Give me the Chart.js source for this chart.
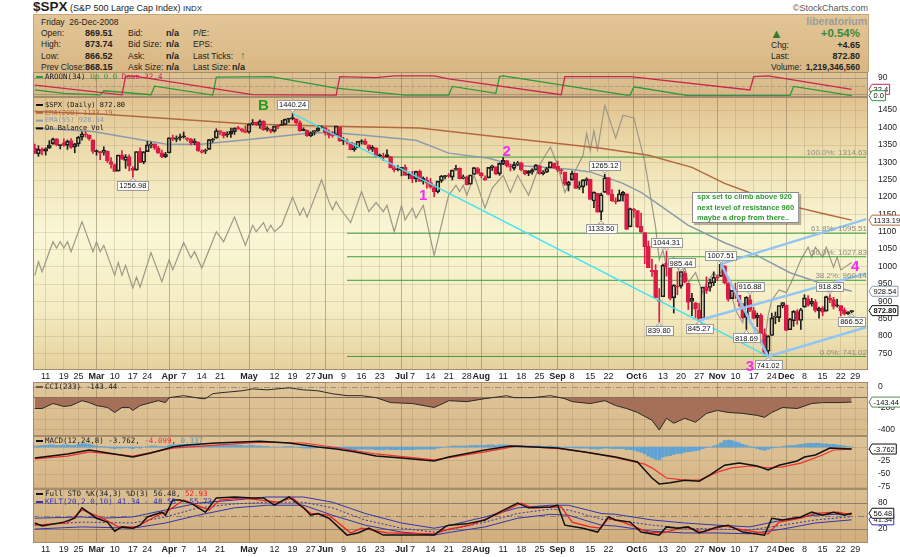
<!DOCTYPE html>
<html>
<head>
<meta charset="utf-8">
<title>$SPX daily</title>
<script src="https://cdn.jsdelivr.net/npm/chart.js@4.4.1/dist/chart.umd.min.js"></script>
<style>
  body { margin: 0; background: #fff; }
  #wrap { position: relative; width: 900px; height: 557px; overflow: hidden; background: #fff;
          font-family: "Liberation Sans", Arial, sans-serif; color: #222; }
  #wrap canvas { position: absolute; left: 0; }
  .t { position: absolute; white-space: nowrap; font-size: 8.5px; line-height: 10px; }
  .v { font-weight: bold; font-size: 9px; }
  #head { position: absolute; left: 33px; top: 14px; width: 834px; height: 57px;
          background: linear-gradient(#e3c596, #d9b784); border: 1px solid #c7a77a; border-bottom: 0; }
</style>
</head>
<body>
<div id="wrap">
  <div class="t" style="left:33px;top:0px;font-size:9px;line-height:14px"><b style="font-size:13.5px">$SPX</b> (S&amp;P 500 Large Cap Index) <span style="font-size:8px">INDX</span></div>
  <div class="t" style="right:32px;top:3px;font-size:9px;color:#555">©StockCharts.com</div>
  <div id="head">
    <div class="t" style="left:7px;top:2px">Friday&nbsp; 26-Dec-2008</div>
    <div class="t" style="left:7px;top:13px">Open:</div><div class="t v" style="left:51px;top:13px">869.51</div>
    <div class="t" style="left:94px;top:13px">Bid:</div><div class="t v" style="left:132px;top:13px">n/a</div>
    <div class="t" style="left:159px;top:13px">P/E:</div>
    <div class="t" style="left:7px;top:24px">High:</div><div class="t v" style="left:51px;top:24px">873.74</div>
    <div class="t" style="left:94px;top:24px">Bid Size:</div><div class="t v" style="left:132px;top:24px">n/a</div>
    <div class="t" style="left:159px;top:24px">EPS:</div>
    <div class="t" style="left:7px;top:36px">Low:</div><div class="t v" style="left:51px;top:36px">866.52</div>
    <div class="t" style="left:94px;top:36px">Ask:</div><div class="t v" style="left:132px;top:36px">n/a</div>
    <div class="t" style="left:159px;top:36px">Last Ticks:</div>
    <div class="t" style="left:206px;top:35px;font-size:11px;font-weight:bold;color:#2f8a3a">&#8593;</div>
    <div class="t" style="left:7px;top:47px">Prev Close:</div><div class="t v" style="left:51px;top:47px">868.15</div>
    <div class="t" style="left:94px;top:47px">Ask Size:</div><div class="t v" style="left:132px;top:47px">n/a</div>
    <div class="t" style="left:159px;top:47px">Last Size:</div><div class="t v" style="left:198px;top:47px">n/a</div>
    <div class="t" style="right:1px;top:1px;font-size:10.5px;font-weight:bold;color:#9b9b9b">liberatorium</div>
    <div class="t" style="left:736px;top:12px;font-size:13px;line-height:14px;color:#2f7d32">&#9650;</div>
    <div class="t v" style="right:8px;top:12px;font-size:11.5px;line-height:12px;color:#3a8a3a">+0.54%</div>
    <div class="t" style="left:737px;top:25px">Chg:</div><div class="t v" style="right:8px;top:25px">+4.65</div>
    <div class="t" style="left:737px;top:36px">Last:</div><div class="t v" style="right:8px;top:36px">872.80</div>
    <div class="t" style="left:737px;top:47px">Volume:</div><div class="t v" style="right:8px;top:47px;font-size:8.5px">1,219,346,560</div>
  </div>
  <canvas id="cAroon" width="900" height="32" style="top:72px"></canvas>
  <canvas id="cPrice" width="900" height="285" style="top:97px"></canvas>
  <canvas id="cCci" width="900" height="54" style="top:382px"></canvas>
  <canvas id="cMacd" width="900" height="53" style="top:436px"></canvas>
  <canvas id="cSto" width="900" height="68" style="top:489px"></canvas>
</div>
<script>
// ---------- calendar ----------
const holidays = ['2008-02-18', '2008-03-21', '2008-05-26', '2008-07-04', '2008-09-01', '2008-11-27', '2008-12-25', '2009-01-01'];
const monthTicks = ['Mar 3', 'Apr 1', 'May 1', 'Jun 2', 'Jul 1', 'Aug 1', 'Sep 2', 'Oct 1', 'Nov 3', 'Dec 1'];
const weekTicks = ['Feb 11', 'Feb 19', 'Feb 25', 'Mar 10', 'Mar 17', 'Mar 24', 'Apr 7', 'Apr 14', 'Apr 21',
  'May 12', 'May 19', 'May 27', 'Jun 9', 'Jun 16', 'Jun 23', 'Jul 7', 'Jul 14', 'Jul 21', 'Jul 28',
  'Aug 11', 'Aug 18', 'Aug 25', 'Sep 8', 'Sep 15', 'Sep 22', 'Oct 6', 'Oct 13', 'Oct 20', 'Oct 27',
  'Nov 10', 'Nov 17', 'Nov 24', 'Dec 8', 'Dec 15', 'Dec 22', 'Dec 29'];

// ---------- daily prices, Feb 6 .. Dec 26 2008 ----------
const open = [
  1339.5, 1324.01, 1336.88, 1331.92, 1340.55, 1353.12, 1367.33, 1347.52, 1355.86, 1348.39, 1362.21, 1344.22, 1352.75, 1371.76, 1378.95, 1378.16, 1364.07,
  1330.45, 1329.58, 1327.69, 1332.2, 1301.53, 1293.16, 1274.4, 1321.13, 1305.26, 1316.05, 1283.21, 1277.16, 1330.97, 1299.67, 1330.29, 1349.07, 1352.45, 1340.34, 1327.02, 1315.92,
  1326.41, 1369.96, 1365.69, 1369.85, 1373.69, 1370.16, 1365.5, 1355.37, 1357.98, 1332.2, 1331.72, 1337.02, 1363.37, 1369, 1387.72, 1386.43, 1378.4, 1380.52, 1387.88, 1397.96, 1395.61, 1391.22,
  1385.97, 1409.16, 1415.34, 1405.6, 1417.49, 1394.29, 1394.9, 1389.4, 1404.4, 1405.65, 1408.36, 1423.89, 1425.28, 1424.49, 1414.06, 1390.83, 1392.2, 1375.97, 1386.54, 1390.5, 1398.36,
  1399.62, 1386.42, 1376.26, 1377.48, 1400.06, 1360.83, 1358.98, 1357.09, 1335.78, 1341.81, 1358.85, 1360.71, 1349.59, 1336.89, 1341.02, 1319.77, 1317.23, 1314.54, 1316.29, 1283.6, 1278.06,
  1276.69, 1285.82, 1262.96, 1262.9, 1251.84, 1273.38, 1245.25, 1248.66, 1241.61, 1226.83, 1214.65, 1246.31, 1258.22, 1261.82, 1257.08, 1278.87, 1283.22, 1253.51, 1257.76, 1236.38, 1264.52, 1281.37,
  1269.42, 1253.27, 1254.87, 1283.99, 1286.51, 1266.29, 1294.42, 1304.79, 1288.64, 1282.11, 1293.85, 1298.14, 1276.65, 1267.34, 1271.07, 1277.59, 1290.47, 1267.03, 1271.29, 1283.79, 1296.49,
  1287.83, 1276.61, 1271.8, 1233.21, 1249.5, 1267.98, 1227.5, 1229.04, 1245.88, 1250.92, 1188.31, 1210.34, 1157.08, 1213.11, 1255.37, 1207.61, 1188.79, 1187.87, 1204.47, 1209.07, 1113.78,
  1164.17, 1160.64, 1115.16, 1097.56, 1057.6, 988.91, 988.42, 902.31, 912.75, 1009.97, 994.6, 909.53, 942.29, 943.51, 980.4, 951.67, 899.08, 895.22, 874.28, 848.92, 939.51, 939.38, 953.11,
  968.67, 971.31, 1001.84, 952.4, 907.44, 936.75, 917.15, 893.39, 853.13, 904.36, 873.23, 852.34, 859.03, 805.87, 755.84, 801.2, 853.4, 852.9, 886.89,
  888.61, 817.94, 843.6, 869.75, 844.43, 882.71, 906.48, 892.17, 898.35, 871.79, 881.07, 871.53, 908.16, 904.42, 886.96, 887.2, 874.31, 863.87, 869.51
];
const high = [
  1351.96, 1347.16, 1341.22, 1341.4, 1362.1, 1369.23, 1368.16, 1350, 1367.28, 1363.71, 1367.94, 1354.3, 1374.36, 1387.34, 1388.34, 1378.16, 1364.07,
  1335.13, 1331.03, 1344.19, 1332.2, 1313.24, 1295.01, 1320.65, 1333.26, 1321.68, 1321.47, 1287.5, 1330.74, 1341.51, 1330.67, 1359.68, 1357.47, 1352.45, 1345.62, 1334.87, 1328.52,
  1370.18, 1377.95, 1375.66, 1380.91, 1386.74, 1370.16, 1368.39, 1367.24, 1357.98, 1335.64, 1337.72, 1365.49, 1368.6, 1395.9, 1390.23, 1386.43, 1387.87, 1397.72, 1399.11, 1402.9, 1397, 1404.57,
  1410.07, 1422.72, 1415.34, 1421.57, 1419.54, 1402.35, 1394.9, 1404.06, 1406.3, 1420.19, 1424.4, 1425.82, 1440.24, 1424.49, 1419.12, 1399.07, 1392.2, 1387.4, 1391.25, 1406.32, 1404.46,
  1399.62, 1393.12, 1388.18, 1404.05, 1400.06, 1370.63, 1366.84, 1357.09, 1353.03, 1360.03, 1364.7, 1366.59, 1349.59, 1347.66, 1341.02, 1323.78, 1326.02, 1335.63, 1316.29, 1289.45, 1290.31,
  1285.31, 1292.17, 1271.48, 1273.95, 1274.17, 1277.36, 1257.65, 1257.27, 1253.5, 1234.35, 1245.52, 1262.31, 1262.23, 1267.74, 1277.42, 1291.17, 1283.22, 1263.23, 1260.09, 1263.2, 1284.33, 1284.93,
  1270.52, 1260.49, 1284.88, 1291.67, 1286.51, 1297.85, 1313.15, 1304.79, 1294.03, 1300.11, 1302.05, 1300.22, 1276.65, 1276.01, 1281.4, 1293.09, 1290.47, 1275.65, 1285.05, 1300.68, 1297.59,
  1303.04, 1280.6, 1271.8, 1244.94, 1274.42, 1268.66, 1243.9, 1249.98, 1255.09, 1250.92, 1214.84, 1210.34, 1211.14, 1265.12, 1255.37, 1221.15, 1197.41, 1220.03, 1215.77, 1209.07, 1168.03,
  1167.03, 1160.64, 1153.82, 1097.56, 1072.91, 1021.06, 1005.25, 936.36, 1006.93, 1044.31, 994.6, 947.71, 984.64, 985.44, 985.44, 951.67, 922.83, 896.3, 893.78, 940.51, 969.97, 963.23, 984.38,
  975.57, 1007.51, 1001.84, 952.4, 931.46, 951.95, 917.15, 893.39, 913.01, 916.88, 882.29, 865.9, 864.57, 820.52, 801.2, 865.6, 868.94, 887.68, 896.25,
  888.61, 850.54, 873.12, 875.6, 879.42, 918.57, 916.26, 908.27, 904.63, 883.24, 884.63, 914.66, 918.85, 911.02, 905.47, 887.37, 880.44, 869.79, 873.74
];
const low = [
  1324.34, 1316.75, 1321.06, 1320.32, 1339.36, 1350.78, 1347.31, 1338.13, 1345.05, 1336.55, 1339.34, 1327.04, 1346.03, 1363.29, 1372, 1363.16, 1325.42,
  1320.04, 1307.39, 1320.22, 1298.97, 1282.43, 1272.66, 1274.4, 1307.86, 1282.11, 1274.86, 1256.98, 1277.16, 1298.42, 1295.22, 1330.29, 1341.21, 1336.41, 1325.66, 1312.95, 1312.81,
  1326.41, 1361.55, 1358.68, 1362.83, 1369.02, 1360.62, 1349.97, 1350.11, 1331.21, 1326.16, 1324.35, 1337.02, 1357.25, 1369, 1379.25, 1369.84, 1372.24, 1371.09, 1379.98, 1394.4, 1386.7, 1384.25,
  1383.07, 1406.25, 1404.37, 1397.1, 1391.16, 1389.39, 1384.11, 1386.2, 1396.26, 1405.65, 1406.87, 1414.35, 1421.63, 1409.09, 1388.81, 1390.23, 1373.72, 1373.07, 1378.16, 1388.59, 1398.08,
  1377.79, 1370.12, 1371.74, 1377.48, 1359.9, 1350.62, 1351.56, 1335.47, 1331.29, 1341.71, 1352.07, 1350.54, 1333.4, 1330.5, 1314.46, 1315.31, 1304.42, 1314.54, 1283.15, 1272, 1274.86,
  1260.68, 1261.51, 1252.01, 1240.68, 1242.84, 1244.57, 1236.76, 1225.35, 1225.01, 1200.44, 1211.39, 1241.49, 1251.81, 1255.7, 1248.83, 1276.06, 1251.48, 1251.75, 1234.37, 1236.38, 1264.52, 1265.97,
  1254.54, 1247.45, 1254.67, 1276, 1264.29, 1262.11, 1292.75, 1285.64, 1274.86, 1276.84, 1290.74, 1274.51, 1263.11, 1261.16, 1265.22, 1277.59, 1264.87, 1263.21, 1270.03, 1283.79, 1282.74,
  1272.2, 1265.59, 1232.83, 1217.23, 1247.12, 1224.51, 1221.6, 1211.54, 1233.81, 1192.7, 1169.28, 1155.88, 1133.5, 1213.11, 1205.61, 1187.06, 1179.79, 1187.87, 1187.54, 1106.42, 1113.78,
  1140.77, 1111.43, 1098.14, 1007.97, 996.23, 970.97, 909.19, 839.8, 912.75, 972.07, 903.99, 865.83, 918.74, 937.44, 952.47, 875.81, 858.44, 852.85, 845.27, 846.1, 922.26, 928.5, 944.59,
  958.82, 971.31, 949.86, 899.73, 906.9, 907.47, 884.9, 850.48, 818.69, 869.88, 848.98, 826.84, 806.18, 747.78, 741.02, 801.2, 834.99, 841.37, 881.21,
  815.69, 817.94, 827.6, 833.6, 818.41, 882.71, 885.38, 885.45, 868.73, 851.35, 857.72, 871.53, 895.94, 877.44, 883.02, 857.09, 860.1, 861.44, 866.52
];
const close = [
  1326.45, 1336.91, 1331.29, 1339.13, 1348.86, 1367.21, 1348.86, 1349.99, 1348.78, 1360.03, 1342.53, 1353.11, 1371.8, 1381.29, 1380.02, 1367.68, 1330.63,
  1331.34, 1326.75, 1333.7, 1304.34, 1293.37, 1273.37, 1320.65, 1308.77, 1315.48, 1288.14, 1276.6, 1330.74, 1298.42, 1329.51, 1349.88, 1352.99, 1341.13, 1325.76, 1315.22, 1322.7,
  1370.18, 1367.53, 1369.31, 1370.4, 1372.54, 1365.54, 1354.49, 1360.55, 1332.83, 1328.32, 1334.43, 1364.71, 1365.56, 1390.33, 1388.17, 1375.94, 1379.93, 1388.82, 1397.84, 1396.37, 1390.94, 1385.59,
  1409.34, 1413.9, 1407.49, 1418.26, 1392.57, 1397.68, 1388.28, 1403.58, 1403.04, 1408.66, 1423.57, 1425.35, 1426.63, 1413.4, 1390.71, 1394.35, 1375.93, 1385.35, 1390.84, 1398.26, 1400.38,
  1385.67, 1377.65, 1377.2, 1404.05, 1360.68, 1361.76, 1358.44, 1335.49, 1339.87, 1360.03, 1360.14, 1350.93, 1337.81, 1342.83, 1317.93, 1318, 1314.29, 1321.97, 1283.15, 1278.38, 1280,
  1284.91, 1261.52, 1262.9, 1252.31, 1273.7, 1244.69, 1253.39, 1239.49, 1228.3, 1214.91, 1245.36, 1260.32, 1260.68, 1260, 1277, 1282.19, 1252.54, 1257.76, 1234.37, 1263.2, 1284.26, 1267.38,
  1260.31, 1249.01, 1284.88, 1289.19, 1266.07, 1296.32, 1305.32, 1289.59, 1285.83, 1292.93, 1298.2, 1278.6, 1266.69, 1274.54, 1277.72, 1292.2, 1266.84, 1271.51, 1281.66, 1300.68, 1282.83,
  1277.58, 1274.98, 1236.83, 1242.31, 1267.79, 1224.51, 1232.04, 1249.05, 1251.7, 1192.7, 1213.6, 1156.39, 1206.51, 1255.08, 1207.09, 1188.22, 1185.87, 1209.18, 1213.27, 1106.42, 1166.36,
  1161.06, 1114.28, 1099.23, 1056.89, 996.23, 984.94, 909.92, 899.22, 1003.35, 998.01, 907.84, 946.43, 940.55, 985.4, 955.05, 896.78, 908.11, 876.77, 848.92, 940.51, 930.09, 954.09, 968.75,
  966.3, 1005.75, 952.77, 904.88, 930.99, 919.21, 898.95, 852.3, 911.29, 873.29, 850.75, 859.12, 806.58, 752.44, 800.03, 851.81, 857.39, 887.68, 896.24,
  816.21, 848.81, 870.74, 845.22, 876.07, 909.7, 888.67, 899.24, 873.59, 879.73, 868.57, 913.18, 904.42, 885.28, 887.88, 871.63, 863.16, 868.15, 872.8
];

// ---------- overlays (date, value) ----------
const ema200 = [['Feb 6', 1446], ['Mar 5', 1438], ['May 1', 1410], ['May 30', 1404], ['Jul 9', 1398], ['Aug 1', 1378],
  ['Aug 27', 1357], ['Sep 18', 1340], ['Oct 7', 1320], ['Oct 23', 1285], ['Nov 5', 1239], ['Nov 18', 1204],
  ['Dec 2', 1175], ['Dec 15', 1152], ['Dec 26', 1133.19]];
const ema55 = [['Feb 6', 1398], ['Feb 29', 1388], ['Mar 31', 1352], ['Apr 11', 1351], ['May 1', 1365], ['May 22', 1382],
  ['Jun 3', 1386], ['Jun 16', 1378], ['Jul 8', 1363], ['Jul 21', 1326], ['Aug 5', 1311], ['Aug 14', 1291],
  ['Aug 27', 1285], ['Sep 8', 1279], ['Sep 15', 1272], ['Sep 26', 1239], ['Oct 3', 1213], ['Oct 9', 1184],
  ['Oct 22', 1118], ['Nov 5', 1068], ['Nov 18', 1031], ['Dec 2', 982], ['Dec 15', 950], ['Dec 26', 928.54]];
// On Balance Volume, billions of shares (relative)
const obv = [['Feb 6', 10.4], ['Feb 7', 11.9], ['Feb 8', 10.8], ['Feb 13', 14.1], ['Feb 14', 13.4], ['Feb 15', 14.1],
  ['Feb 19', 13.4], ['Feb 20', 14.1], ['Feb 21', 13.0], ['Feb 26', 16.3], ['Feb 29', 13.0], ['Mar 3', 14.1],
  ['Mar 4', 13.0], ['Mar 5', 13.7], ['Mar 10', 10.4], ['Mar 11', 11.8], ['Mar 12', 10.4], ['Mar 13', 11.5],
  ['Mar 17', 9.0], ['Mar 18', 10.2], ['Mar 19', 9.1], ['Mar 25', 12.9], ['Mar 28', 9.7], ['Apr 1', 12.1],
  ['Apr 2', 11.0], ['Apr 7', 14.0], ['Apr 9', 12.3], ['Apr 10', 13.0], ['Apr 14', 11.2], ['Apr 18', 15.2],
  ['Apr 22', 14.1], ['Apr 25', 16.8], ['Apr 30', 13.7], ['May 2', 15.9], ['May 5', 15.2], ['May 7', 16.2],
  ['May 8', 15.2], ['May 9', 15.9], ['May 12', 15.2], ['May 14', 15.9], ['May 19', 19.0], ['May 21', 17.0],
  ['May 22', 17.8], ['May 23', 16.8], ['May 30', 20.9], ['Jun 3', 18.5], ['Jun 4', 17.6], ['Jun 5', 18.5],
  ['Jun 6', 17.8], ['Jun 11', 16.2], ['Jun 16', 19.6], ['Jun 18', 17.4], ['Jun 20', 18.4], ['Jun 24', 17.4],
  ['Jun 25', 18.1], ['Jun 27', 15.2], ['Jul 1', 18.1], ['Jul 2', 16.5], ['Jul 7', 17.8], ['Jul 8', 16.7],
  ['Jul 10', 18.1], ['Jul 15', 12.6], ['Jul 18', 17.6], ['Jul 21', 19.2], ['Jul 23', 20.3], ['Jul 24', 19.6],
  ['Jul 25', 20.3], ['Jul 28', 19.2], ['Jul 30', 21.4], ['Aug 4', 17.8], ['Aug 6', 20.0], ['Aug 11', 21.4],
  ['Aug 13', 19.5], ['Aug 15', 21.4], ['Aug 20', 19.2], ['Aug 25', 22.5], ['Aug 28', 24.5], ['Sep 2', 22.5],
  ['Sep 4', 19.5], ['Sep 8', 21.2], ['Sep 11', 23.6], ['Sep 12', 26.0], ['Sep 15', 24.1], ['Sep 16', 26.3],
  ['Sep 17', 24.2], ['Sep 19', 29.1], ['Sep 24', 25.5], ['Sep 26', 28.0], ['Oct 1', 27.7], ['Oct 6', 22.9],
  ['Oct 9', 15.7], ['Oct 10', 12.1], ['Oct 13', 13.2], ['Oct 14', 11.3], ['Oct 16', 12.4], ['Oct 20', 10.2],
  ['Oct 21', 11.3], ['Oct 22', 9.6], ['Oct 24', 10.7], ['Oct 28', 8.5], ['Oct 29', 9.6], ['Oct 31', 10.7],
  ['Nov 3', 10.2], ['Nov 5', 11.3], ['Nov 6', 9.6], ['Nov 10', 6.6], ['Nov 12', 5.2], ['Nov 13', 7.7],
  ['Nov 14', 5.2], ['Nov 18', 4.4], ['Nov 19', 3.3], ['Nov 20', 3.0], ['Nov 21', 6.0], ['Nov 24', 7.7],
  ['Nov 26', 8.8], ['Dec 1', 8.5], ['Dec 3', 10.2], ['Dec 5', 12.1], ['Dec 9', 13.5], ['Dec 10', 12.4],
  ['Dec 11', 13.5], ['Dec 15', 12.4], ['Dec 16', 13.5], ['Dec 18', 11.3], ['Dec 19', 12.4], ['Dec 22', 11.0],
  ['Dec 26', 11.8]];

const aroonUp = [['Feb 6', 29], ['Feb 19', 12], ['Mar 4', 4], ['Mar 5', 25], ['Mar 25', 5], ['Mar 26', 48],
  ['Apr 17', 3], ['Apr 18', 94], ['May 9', 97], ['Jun 5', 38], ['Jul 2', 3], ['Jul 21', 3], ['Jul 22', 47],
  ['Aug 7', 12], ['Aug 8', 97], ['Aug 11', 100], ['Sep 29', 3], ['Sep 30', 3], ['Oct 1', 45], ['Oct 22', 0],
  ['Dec 2', 0], ['Dec 3', 47], ['Dec 26', 0]];
const aroonDown = [['Feb 6', 54], ['Mar 12', 4], ['Mar 13', 97], ['Mar 17', 100], ['May 2', 5], ['Jun 5', 3],
  ['Jun 6', 97], ['Jun 20', 92], ['Jun 27', 100], ['Jul 15', 100], ['Jul 21', 85], ['Sep 3', 5], ['Sep 4', 97],
  ['Sep 30', 97], ['Nov 14', 29], ['Nov 17', 97], ['Nov 21', 100], ['Dec 26', 32.4]];

const cci = [['Feb 6', -204], ['Feb 8', -204], ['Feb 13', -157], ['Feb 19', -185], ['Feb 21', -176], ['Feb 26', -130],
  ['Feb 28', -148], ['Mar 3', -176], ['Mar 6', -194], ['Mar 10', -241], ['Mar 12', -194], ['Mar 14', -194],
  ['Mar 17', -222], ['Mar 19', -176], ['Mar 27', -130], ['Mar 31', -148], ['Apr 1', -102], ['Apr 7', -83],
  ['Apr 14', -111], ['Apr 15', -111], ['Apr 17', -65], ['Apr 21', -56], ['Apr 29', -37], ['May 2', -19],
  ['May 8', -28], ['May 16', -9], ['May 22', -28], ['May 29', -37], ['Jun 4', -65], ['Jun 10', -83],
  ['Jun 16', -83], ['Jun 20', -102], ['Jun 26', -148], ['Jul 7', -157], ['Jul 15', -194], ['Jul 18', -148],
  ['Jul 21', -130], ['Jul 28', -139], ['Aug 4', -111], ['Aug 12', -83], ['Aug 14', -102], ['Aug 21', -102],
  ['Aug 28', -83], ['Sep 4', -111], ['Sep 8', -139], ['Sep 15', -157], ['Sep 19', -130], ['Sep 24', -176],
  ['Sep 29', -204], ['Oct 2', -241], ['Oct 8', -315], ['Oct 10', -407], ['Oct 14', -296], ['Oct 16', -343],
  ['Oct 21', -296], ['Oct 24', -333], ['Oct 29', -250], ['Nov 3', -222], ['Nov 6', -241], ['Nov 12', -250],
  ['Nov 18', -269], ['Nov 20', -287], ['Nov 24', -241], ['Nov 28', -194], ['Dec 4', -204], ['Dec 10', -157],
  ['Dec 15', -148], ['Dec 19', -148], ['Dec 26', -143.44]];

const macd = [['Feb 6', -20.6], ['Feb 20', -13], ['Feb 28', -5.6], ['Mar 4', -9], ['Mar 17', -18.7], ['Mar 25', -11],
  ['Apr 2', 0], ['Apr 8', 3.7], ['Apr 18', 7.5], ['May 6', 11], ['May 16', 7.5], ['May 22', 3.7], ['May 29', 0],
  ['Jun 5', -3.7], ['Jun 12', -9], ['Jun 20', -17], ['Jul 1', -20.6], ['Jul 15', -26], ['Jul 21', -18.7],
  ['Aug 4', -5.6], ['Aug 13', 1.9], ['Sep 2', -1.9], ['Sep 11', -9], ['Sep 24', -18.7], ['Oct 2', -28],
  ['Oct 8', -58], ['Oct 10', -69], ['Oct 15', -67], ['Oct 21', -62], ['Oct 27', -64], ['Oct 30', -52],
  ['Nov 5', -34], ['Nov 11', -30], ['Nov 18', -35.5], ['Nov 21', -43], ['Nov 26', -34], ['Dec 4', -26],
  ['Dec 8', -18.7], ['Dec 11', -15], ['Dec 17', -1.9], ['Dec 26', -3.762]];
const macdSignal = [['Feb 6', -22], ['Feb 20', -17], ['Feb 28', -9], ['Mar 7', -13], ['Mar 17', -17], ['Apr 2', -2],
  ['Apr 18', 3.7], ['May 6', 9], ['May 22', 7.5], ['Jun 4', 0], ['Jun 20', -13], ['Jul 15', -24], ['Jul 21', -20],
  ['Aug 4', -9], ['Aug 15', 2], ['Sep 3', -3.7], ['Sep 15', -11], ['Sep 24', -20], ['Oct 6', -32], ['Oct 8', -39],
  ['Oct 14', -58], ['Oct 21', -62], ['Oct 27', -62], ['Nov 3', -47], ['Nov 7', -39], ['Nov 14', -35.5],
  ['Nov 21', -39], ['Nov 28', -37], ['Dec 5', -30], ['Dec 15', -15], ['Dec 18', -5.6], ['Dec 26', -4.099]];
const macdHist = [
  2, 2, 3, 3, 4, 4, 3, 3, 4, 4, 3, 3, 5, 6, 6, 5, 3,
  2, 1, 1, -1, -2, -3, -2, -2, -1, -2, -3, -1, -2, 0, 1, 2, 2, 1, 1, 1,
  3, 4, 4, 5, 5, 5, 4, 4, 3, 2, 2, 3, 3, 4, 4, 3, 3, 3, 4, 3, 3, 2,
  3, 3, 2, 2, 1, 1, 0, 0, 0, 0, 1, 1, 1, 0, -1, -2, -2, -2, -2, -1, -1,
  -2, -2, -3, -2, -3, -3, -4, -5, -5, -4, -4, -4, -4, -4, -5, -5, -5, -4, -5, -5, -5,
  -5, -5, -5, -5, -4, -4, -4, -4, -4, -4, -2, -1, 0, 1, 2, 2, 2, 2, 2, 3, 3, 3,
  3, 3, 4, 4, 3, 4, 4, 4, 3, 3, 3, 3, 2, 2, 2, 2, 2, 1, 1, 2, 1,
  1, 0, -1, -1, -1, -2, -2, -2, -2, -3, -3, -4, -3, -2, -2, -3, -3, -3, -3, -5, -5,
  -6, -8, -10, -13, -17, -20, -23, -24, -19, -17, -16, -14, -12, -12, -10, -9, -8, -7, -6, -3, -1, 0, 2,
  4, 8, 12, 13, 12, 10, 8, 5, 3, 1, -1, -3, -5, -6, -4, -2, -1, 0, 1,
  2, 3, 3, 4, 5, 6, 7, 7, 7, 7, 6, 6, 5, 5, 4, 3, 2, 1, 0.337
];

const stoK = [['Feb 6', 34], ['Feb 8', 27], ['Feb 19', 36], ['Feb 22', 45], ['Feb 26', 69], ['Mar 3', 45], ['Mar 6', 36],
  ['Mar 10', 15], ['Mar 12', 25], ['Mar 17', 22], ['Mar 19', 29], ['Mar 24', 48], ['Mar 28', 59], ['Mar 31', 52],
  ['Apr 2', 87], ['Apr 4', 87], ['Apr 9', 80], ['Apr 15', 59], ['Apr 18', 92], ['Apr 25', 94], ['May 2', 92],
  ['May 7', 92], ['May 12', 75], ['May 16', 94], ['May 22', 69], ['May 27', 52], ['May 29', 56], ['Jun 3', 45],
  ['Jun 10', 6], ['Jun 13', 11], ['Jun 18', 22], ['Jun 24', 6], ['Jul 15', 6], ['Jul 18', 25], ['Jul 21', 29],
  ['Jul 28', 32], ['Aug 4', 41], ['Aug 8', 59], ['Aug 15', 80], ['Aug 20', 69], ['Aug 28', 71], ['Sep 2', 75],
  ['Sep 4', 29], ['Sep 9', 25], ['Sep 11', 22], ['Sep 17', 13], ['Sep 22', 48], ['Sep 24', 41], ['Sep 30', 36],
  ['Oct 3', 13], ['Oct 10', 6], ['Oct 14', 25], ['Oct 17', 22], ['Oct 22', 25], ['Oct 27', 11], ['Nov 3', 25],
  ['Nov 6', 29], ['Nov 12', 13], ['Nov 20', 6], ['Nov 24', 45], ['Nov 28', 41], ['Dec 5', 48], ['Dec 10', 59],
  ['Dec 15', 52], ['Dec 18', 59], ['Dec 23', 52], ['Dec 26', 56.48]];
const stoD = [['Feb 6', 29], ['Feb 20', 34], ['Feb 26', 64], ['Mar 4', 48], ['Mar 11', 25], ['Mar 18', 25], ['Mar 26', 48],
  ['Apr 1', 64], ['Apr 7', 87], ['Apr 16', 64], ['Apr 21', 87], ['Apr 29', 92], ['May 13', 82], ['May 19', 92],
  ['May 27', 56], ['Jun 3', 52], ['Jun 11', 11], ['Jun 16', 22], ['Jun 25', 11], ['Jul 15', 9], ['Jul 21', 20],
  ['Jul 29', 29], ['Aug 8', 56], ['Aug 18', 80], ['Aug 21', 69], ['Sep 3', 71], ['Sep 8', 36], ['Sep 15', 25],
  ['Sep 18', 22], ['Sep 22', 45], ['Sep 26', 36], ['Oct 7', 13], ['Oct 13', 11], ['Oct 21', 25], ['Oct 28', 13],
  ['Nov 5', 27], ['Nov 12', 18], ['Nov 21', 9], ['Nov 26', 36], ['Dec 5', 45], ['Dec 11', 56], ['Dec 19', 59],
  ['Dec 26', 52.93]];
const keltUpper = [['Feb 6', 45], ['Feb 26', 48], ['Mar 4', 45], ['Mar 17', 48], ['Mar 31', 64], ['Apr 11', 80],
  ['Apr 25', 87], ['May 8', 94], ['May 22', 94], ['Jun 4', 82], ['Jun 17', 56], ['Jul 1', 34], ['Jul 15', 22],
  ['Jul 21', 28], ['Aug 4', 48], ['Aug 15', 69], ['Aug 28', 75], ['Sep 5', 75], ['Sep 18', 56], ['Sep 24', 54],
  ['Oct 8', 41], ['Oct 21', 34], ['Nov 3', 29], ['Nov 14', 25], ['Nov 28', 41], ['Dec 11', 52], ['Dec 26', 55.73]];
const keltMid = [['Feb 6', 29], ['Feb 26', 36], ['Mar 17', 34], ['Mar 31', 48], ['Apr 11', 69], ['Apr 25', 78],
  ['May 8', 82], ['May 22', 82], ['Jun 4', 69], ['Jun 17', 41], ['Jul 1', 22], ['Jul 15', 13], ['Jul 21', 18],
  ['Aug 4', 36], ['Aug 15', 56], ['Aug 28', 66], ['Sep 5', 64], ['Sep 18', 43], ['Sep 24', 41], ['Oct 8', 29],
  ['Oct 21', 22], ['Nov 3', 20], ['Nov 14', 18], ['Nov 28', 29], ['Dec 11', 41], ['Dec 26', 48.53]];
const keltLower = [['Feb 6', 20], ['Feb 26', 25], ['Mar 17', 22], ['Mar 31', 34], ['Apr 11', 52], ['Apr 25', 69],
  ['May 8', 75], ['May 22', 75], ['Jun 4', 52], ['Jun 17', 29], ['Jul 1', 13], ['Jul 15', 6], ['Jul 21', 12],
  ['Aug 4', 25], ['Aug 15', 45], ['Aug 28', 54], ['Sep 5', 52], ['Sep 18', 29], ['Sep 24', 27], ['Oct 8', 15],
  ['Oct 21', 11], ['Nov 3', 11], ['Nov 14', 9], ['Nov 28', 20], ['Dec 11', 34], ['Dec 26', 41.34]];

// ---------- drawn annotations ----------
const fibLevels = [['100.0%', 1314.63], ['61.8%', 1095.51], ['50.0%', 1027.83], ['38.2%', 960.14], ['0.0%', 741.02]];
const fibFrom = 'Jun 10', edgeDate = 'Jan 2';
const cyanLine = [['May 19', 1440.24], ['Nov 21', 741.02]];
const channelLines = [
  [['Nov 4', 1007.51], ['Nov 21', 741.02]],
  [['Nov 4', 1007.51], ['Jan 2', 1136]],
  [['Oct 27', 845.27], ['Jan 2', 980]],
  [['Nov 21', 741.02], ['Jan 2', 825]]
];
const priceNotes = [['May 19', 1440.24, 1], ['Mar 17', 1256.98, -1], ['Sep 19', 1265.12, 1], ['Sep 18', 1133.50, -1],
  ['Oct 14', 1044.31, 1], ['Oct 20', 985.44, 1], ['Nov 4', 1007.51, 1], ['Nov 14', 916.88, 1], ['Oct 10', 839.80, -1],
  ['Oct 27', 845.27, -1], ['Nov 13', 818.69, -1], ['Nov 21', 741.02, -1], ['Dec 17', 918.85, 1], ['Dec 26', 866.52, -1]];
const waveMarks = [['B', 'May 7', 1461, '#1f9e1f'], ['1', 'Jul 10', 1202, '#f22cf2'], ['2', 'Aug 12', 1329, '#f22cf2'],
  ['3', 'Nov 14', 712, '#f22cf2'], ['4', 'Dec 29', 998, '#f22cf2']];
const noteLines = ['spx set to climb above 920', 'next level of resistance 960', 'maybe a drop from there..'];
const noteAt = ['Oct 23', 1214];
const priceTicks = [750, 800, 850, 900, 950, 1000, 1050, 1100, 1150, 1200, 1250, 1300, 1350, 1400, 1450];

// ---------- helpers ----------
const AX = '"Liberation Sans", Arial, sans-serif';
const MONO = '"DejaVu Sans Mono", monospace';
const MON = ['Jan', 'Feb', 'Mar', 'Apr', 'May', 'Jun', 'Jul', 'Aug', 'Sep', 'Oct', 'Nov', 'Dec'];
const dates = [];
for (let d = new Date(Date.UTC(2008, 1, 6)); dates.length < 230; d.setUTCDate(d.getUTCDate() + 1)) {
  const wd = d.getUTCDay();
  if (wd === 0 || wd === 6 || holidays.includes(d.toISOString().slice(0, 10))) continue;
  dates.push(MON[d.getUTCMonth()] + ' ' + d.getUTCDate());
}
const pts = a => a.map(([x, y]) => ({ x, y }));

function tickText(i) {
  const d = dates[i];
  if (monthTicks.includes(d)) return d.split(' ')[0];
  if (weekTicks.includes(d)) return d.split(' ')[1];
  return '';
}
function gridColor(i) {
  const d = dates[i];
  if (monthTicks.includes(d)) return 'rgba(120,100,75,0.45)';
  if (weekTicks.includes(d)) return 'rgba(140,120,95,0.22)';
  return 'rgba(0,0,0,0)';
}
function xAxis(labelHeight) {
  return {
    type: 'category', offset: true,
    grid: { offset: false, drawTicks: false, color: c => gridColor(c.index), lineWidth: 1 },
    border: { display: false },
    ticks: {
      display: labelHeight > 0, autoSkip: false, maxRotation: 0, minRotation: 0, padding: 1, color: '#222',
      font: c => ({ family: AX, size: 9, weight: monthTicks.includes(dates[c.index]) ? 'bold' : 'normal' }),
      callback: (v, i) => tickText(i)
    },
    afterFit: s => { s.height = labelHeight; s.paddingLeft = 0; s.paddingRight = 0; }
  };
}
function yAxis(min, max, tickVals) {
  return {
    position: 'right', min, max,
    grid: { display: false }, border: { display: false },
    ticks: { color: '#222', font: { family: AX, size: 8.5 }, padding: 2, callback: v => String(v) },
    afterBuildTicks: s => { s.ticks = tickVals.map(v => ({ value: v })); },
    afterFit: s => { s.width = 32; s.paddingTop = 0; s.paddingBottom = 0; }
  };
}
function line(data, color, width, extra) {
  return Object.assign({ type: 'line', data: pts(data), borderColor: color, borderWidth: width,
    pointRadius: 0, tension: 0, fill: false }, extra || {});
}

// panel decorations: background, level lines, legend text and value tags
const panels = {
  cAroon: {
    stops: [[0, '#e0c394'], [1, '#d7b684']],
    lines: [[90, '#a89886'], [50, '#b09f88', [4, 2]], [10, '#a89886']],
    legendTop: 5, legendGap: 8,
    legend: [{ mark: '#2c9a3c', parts: [['AROON(34) ', '#222'], ['Up 0.0 ', '#2c9a3c'], ['Down 32.4', '#c8284f']] }],
    tags: [[32.4, '32.4', '#c8284f'], [0, '0.0', '#2c9a3c']]
  },
  cPrice: {
    stops: [[0, '#e1c290'], [0.22, '#eedfb0'], [0.5, '#faf7d6'], [0.78, '#f4ecc2'], [1, '#e5d09c']],
    lines: priceTicks.map(v => [v, 'rgba(150,130,100,0.22)']),
    legendTop: 8, legendGap: 7.8,
    legend: [
      { mark: '#111', parts: [['$SPX (Daily) 872.80', '#111']] },
      { mark: '#b5683f', parts: [['EMA(200) 1133.19', '#b5683f']] },
      { mark: '#8a9bb0', parts: [['EMA(55) 928.54', '#8a9bb0']] },
      { mark: '#111', parts: [['On Balance Vol', '#111']] }
    ],
    tags: [[1133.19, '1133.19', '#b5683f'], [928.54, '928.54', '#8a9bb0'], [872.8, '872.80', '#111', true]]
  },
  cCci: {
    stops: [[0, '#e0c69b'], [1, '#d8b98a']],
    lines: [[0, '#9e8e7a', [6, 2, 1, 2]], [-100, '#7c6c5c'], [-200, 'rgba(150,130,100,0.25)'],
      [-300, 'rgba(150,130,100,0.25)'], [-400, 'rgba(150,130,100,0.25)']],
    legendTop: 5, legendGap: 8,
    legend: [{ mark: '#6a5a4a', parts: [['CCI(233) -143.44', '#222']] }],
    tags: [[-143.44, '-143.44', '#5a8a5a']]
  },
  cMacd: {
    stops: [[0, '#dec398'], [1, '#d6b586']],
    lines: [[0, 'rgba(150,130,100,0.3)'], [-25, 'rgba(150,130,100,0.25)'], [-50, 'rgba(150,130,100,0.25)'],
      [-75, 'rgba(150,130,100,0.25)']],
    legendTop: 5, legendGap: 8,
    legend: [{ mark: '#111', parts: [['MACD(12,24,8) -3.762', '#222'], [', ', '#222'], ['-4.099', '#f03030'],
      [', ', '#222'], ['0.337', '#4a9ad0']] }],
    tags: [[-3.762, '-3.762', '#111']]
  },
  cSto: {
    stops: [[0, '#dbbf92'], [1, '#d1ad7d']],
    lines: [[80, '#8d7d6b'], [50, '#8d7d6b', [6, 2, 1, 2]], [20, '#8d7d6b']],
    legendTop: 5, legendGap: 8,
    legend: [
      { mark: '#111', parts: [['Full STO %K(34,3) %D(3) 56.48, ', '#222'], ['52.93', '#f02020']] },
      { mark: '#3434b4', parts: [['KELT(20,2.0,10) 41.34 - 48.53 - 55.73', '#3434b4']] }
    ],
    tags: [[41.34, '41.34', '#3434b4'], [56.48, '56.48', '#111']]
  }
};

function drawTag(ctx, a, y, text, col, bold) {
  ctx.font = (bold ? 'bold ' : '') + '7.5px ' + AX;
  const w = ctx.measureText(text).width + 3, x0 = a.right + 1;
  ctx.beginPath();
  ctx.moveTo(x0, y); ctx.lineTo(x0 + 3, y - 5); ctx.lineTo(x0 + 3 + w, y - 5);
  ctx.lineTo(x0 + 3 + w, y + 5); ctx.lineTo(x0 + 3, y + 5); ctx.closePath();
  ctx.fillStyle = '#fff'; ctx.fill();
  ctx.strokeStyle = col; ctx.lineWidth = 1; ctx.stroke();
  ctx.fillStyle = '#111'; ctx.textAlign = 'left'; ctx.textBaseline = 'middle';
  ctx.fillText(text, x0 + 4.5, y + 0.5);
}

Chart.register({
  id: 'panelDeco',
  beforeDraw(chart) {
    const p = panels[chart.canvas.id]; if (!p) return;
    const { ctx, chartArea: a } = chart, ys = chart.scales.y;
    ctx.save();
    const g = ctx.createLinearGradient(0, a.top, 0, a.bottom);
    p.stops.forEach(s => g.addColorStop(s[0], s[1]));
    ctx.fillStyle = g;
    ctx.fillRect(a.left, a.top, a.right - a.left, a.bottom - a.top);
    p.lines.forEach(([v, c, dash]) => {
      const y = Math.round(ys.getPixelForValue(v)) + 0.5;
      ctx.strokeStyle = c; ctx.lineWidth = 1; ctx.setLineDash(dash || []);
      ctx.beginPath(); ctx.moveTo(a.left, y); ctx.lineTo(a.right, y); ctx.stroke();
    });
    ctx.restore();
  },
  afterDraw(chart) {
    const p = panels[chart.canvas.id]; if (!p) return;
    const { ctx, chartArea: a } = chart, ys = chart.scales.y;
    ctx.save();
    ctx.strokeStyle = '#a48d6c'; ctx.lineWidth = 1;
    ctx.strokeRect(a.left + 0.5, a.top + 0.5, a.right - a.left - 1, a.bottom - a.top - 1);
    ctx.textBaseline = 'middle'; ctx.textAlign = 'left';
    ctx.font = (chart.canvas.id === 'cPrice' ? '7px ' : '7.5px ') + MONO;
    p.legend.forEach((ln, k) => {
      const y = a.top + p.legendTop + k * p.legendGap;
      ctx.fillStyle = ln.mark; ctx.fillRect(a.left + 3, y - 1, 7, 2);
      let x = a.left + 12;
      ln.parts.forEach(([t, c]) => { ctx.fillStyle = c; ctx.fillText(t, x, y); x += ctx.measureText(t).width; });
    });
    p.tags.forEach(t => drawTag(ctx, a, ys.getPixelForValue(t[0]), t[1], t[2], t[3]));
    ctx.restore();
  }
});

function priceBox(ctx, x, y, text, dir) {
  ctx.font = '7.5px ' + AX;
  const w = ctx.measureText(text).width + 4, h = 9;
  const top = dir > 0 ? y - 4 - h : y + 4;
  ctx.fillStyle = '#fff'; ctx.strokeStyle = '#9a9a9a'; ctx.lineWidth = 1;
  ctx.beginPath();
  if (dir > 0) { ctx.moveTo(x - 3, top + h); ctx.lineTo(x, y - 1); ctx.lineTo(x + 3, top + h); }
  else { ctx.moveTo(x - 3, top); ctx.lineTo(x, y + 1); ctx.lineTo(x + 3, top); }
  ctx.closePath(); ctx.fill(); ctx.stroke();
  ctx.fillRect(x - w / 2, top, w, h);
  ctx.strokeRect(Math.round(x - w / 2) + 0.5, Math.round(top) + 0.5, Math.round(w), h);
  ctx.fillStyle = '#111'; ctx.textAlign = 'center'; ctx.textBaseline = 'middle';
  ctx.fillText(text, x, top + h / 2 + 0.5);
}

const priceDeco = {
  id: 'priceDeco',
  afterDraw(chart) {
    const { ctx, chartArea: a } = chart, xs = chart.scales.x, ys = chart.scales.y;
    const px = d => xs.getPixelForValue(dates.indexOf(d));
    ctx.save();
    ctx.font = '8px ' + AX; ctx.fillStyle = '#8d8a7c'; ctx.textAlign = 'right'; ctx.textBaseline = 'middle';
    fibLevels.forEach(([p, v]) => ctx.fillText(p + ': ' + v.toFixed(2), a.right - 1, ys.getPixelForValue(v) - 4));
    priceNotes.forEach(([d, v, dir]) => priceBox(ctx, px(d), ys.getPixelForValue(v), v.toFixed(2), dir));
    ctx.font = 'bold 15px ' + AX; ctx.textAlign = 'center'; ctx.textBaseline = 'middle';
    waveMarks.forEach(([t, d, v, c]) => { ctx.fillStyle = c; ctx.fillText(t, px(d), ys.getPixelForValue(v)); });
    // comment box
    ctx.font = 'bold 7.5px ' + AX;
    const bw = Math.max(...noteLines.map(t => ctx.measureText(t).width)) + 10, bh = 31;
    const nx = Math.round(px(noteAt[0])), ny = Math.round(ys.getPixelForValue(noteAt[1]));
    ctx.fillStyle = 'rgba(60,50,40,0.35)'; ctx.fillRect(nx + 2, ny + 2, bw, bh);
    ctx.fillStyle = '#fff'; ctx.fillRect(nx, ny, bw, bh);
    ctx.strokeStyle = '#8a8a8a'; ctx.strokeRect(nx + 0.5, ny + 0.5, bw - 1, bh - 1);
    ctx.fillStyle = '#2b9a2b'; ctx.textAlign = 'left';
    noteLines.forEach((t, k) => ctx.fillText(t, nx + 5, ny + 5 + k * 10.5));
    ctx.restore();
  }
};

// ---------- candle styling from the data ----------
const candleCol = close.map((c, i) => c >= (i ? close[i - 1] : open[i]) ? '#1e1e1e' : '#d91c45');
const bodyFill = close.map((c, i) => c < open[i] ? candleCol[i] : 'rgba(0,0,0,0)');

function makeChart(id, datasets, yScales, labelHeight, padBottom, plugins) {
  return new Chart(document.getElementById(id), {
    type: 'bar',
    data: { labels: dates.slice(), datasets },
    options: {
      responsive: false, animation: false, events: [],
      layout: { padding: { left: 33, right: 0, top: 0, bottom: padBottom || 0 } },
      plugins: { legend: { display: false }, tooltip: { enabled: false } },
      scales: Object.assign({ x: xAxis(labelHeight) }, yScales)
    },
    plugins: plugins || []
  });
}

// Aroon
makeChart('cAroon', [
  line(aroonDown, '#c8284f', 1.3),
  line(aroonUp, '#2c9a3c', 1.3)
], { y: yAxis(-6.6, 120, [90]) }, 0, 7);

// Price
const priceSets = [
  line(obv, '#9d9886', 1.2, { yAxisID: 'yObv', order: 10 }),
  ...fibLevels.map(([p, v]) => line([[fibFrom, v], [edgeDate, v]], '#3c9c3c', 1, { order: 9 })),
  line(ema200, '#b5683f', 1.5, { order: 8 }),
  line(ema55, '#8a9bb0', 1.5, { order: 8 }),
  { type: 'bar', data: low.map((l, i) => [l, Math.min(open[i], close[i])]), backgroundColor: candleCol,
    barThickness: 1, grouped: false, order: 5 },
  { type: 'bar', data: high.map((h, i) => [Math.max(open[i], close[i]), h]), backgroundColor: candleCol,
    barThickness: 1, grouped: false, order: 5 },
  { type: 'bar', data: open.map((o, i) => [o, close[i]]), backgroundColor: bodyFill, borderColor: candleCol,
    borderWidth: 1, borderSkipped: false, barThickness: 4, minBarLength: 1, grouped: false, order: 4 },
  line(cyanLine, '#3fe3f3', 1.5, { order: 2 }),
  ...channelLines.map(l => line(l, '#92c5f5', 2.5, { order: 1 }))
];
makeChart('cPrice', priceSets, {
  y: yAxis(702, 1487.5, priceTicks),
  yObv: { display: false, min: 0, max: 30 }
}, 12, 0, [priceDeco]);

// CCI
makeChart('cCci', [
  line(cci, '#2a2a2a', 1, { fill: { target: { value: -100 }, above: 'rgba(0,0,0,0)', below: '#a56f58' } })
], { y: yAxis(-463, 46, [0, -100, -200, -300, -400]) }, 0);

// MACD
makeChart('cMacd', [
  { type: 'bar', data: macdHist, backgroundColor: '#5fa3d6', barThickness: 3, grouped: false, order: 3 },
  line(macdSignal, '#f03030', 1.2, { order: 2 }),
  line(macd, '#111', 1.5, { order: 1 })
], { y: yAxis(-78.5, 20.6, [-25, -50, -75]) }, 0);

// Full stochastics + Keltner
makeChart('cSto', [
  line(keltUpper, '#3434b4', 1, { order: 3 }),
  line(keltMid, '#3434b4', 1, { order: 3, borderDash: [2, 2] }),
  line(keltLower, '#3434b4', 1, { order: 3 }),
  line(stoD, '#f02020', 1.2, { order: 2 }),
  line(stoK, '#111', 1.5, { order: 1 })
], { y: yAxis(-12.2, 112.5, [80, 20]) }, 14);
</script>
</body>
</html>
